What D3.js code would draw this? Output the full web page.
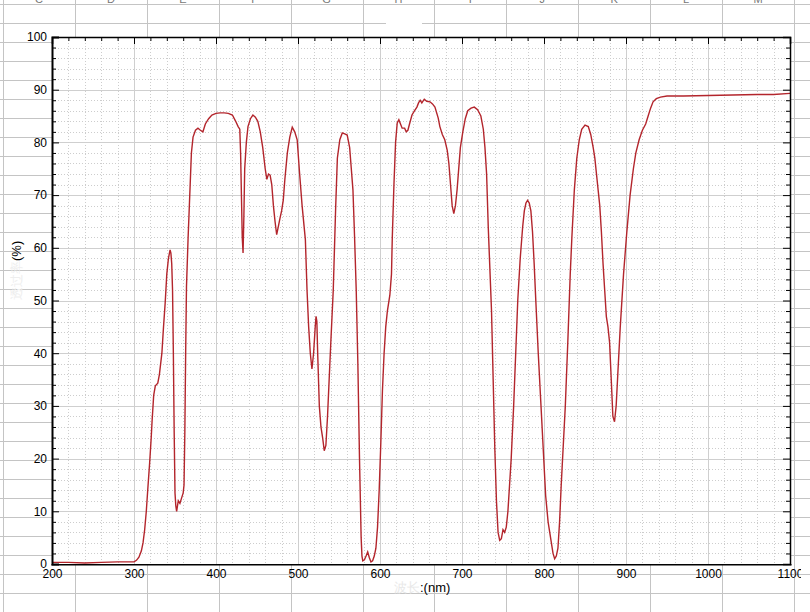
<!DOCTYPE html>
<html><head><meta charset="utf-8">
<script src="https://cdn.jsdelivr.net/npm/d3@7"></script>
<style>body{margin:0;background:#fff}svg{display:block}text{font-family:"Liberation Sans",Arial,sans-serif}</style>
</head><body>
<svg id="c" width="810" height="612"></svg>
<script>
// ---- data ----
const wavelength = [200,220,240,260,280,300,303,306,309,311,313,315,317,319,321,322,324,326,329,331,334,336,338,340,342,344,345,346,347,348,349,350,351,352,354,356,358,360,361,362,363,364,366,368,370,372,375,378,381,384,387,391,395,400,405,410,415,420,424,427,429,430,431,432,433,434,435,437,439,442,445,448,451,454,457,460,462,464,466,468,470,472,474,476,478,480,482,484,487,490,493,496,499,502,505,509,511,513,515,517,519,521,522,523,524,526,528,530,532,534,536,538,540,543,546,548,551,554,557,560,563,565,567,569,571,573,575,577,578,579,581,583,585,587,589,591,593,595,597,599,601,603,605,607,609,612,614,615,617,619,621,623,625,627,630,632,634,636,639,642,645,647,649,651,654,657,661,664,667,671,673,676,679,682,684,686,688,690,692,694,696,698,701,704,707,711,715,719,723,726,728,730,732,734,736,738,740,742,744,746,748,750,752,754,756,758,760,763,766,768,771,774,776,778,780,782,784,786,788,790,793,796,798,800,802,805,807,809,811,813,815,817,819,821,824,826,829,832,834,837,840,843,846,850,854,857,860,862,864,866,868,870,872,874,876,878,880,882,884,886,888,890,893,897,901,905,909,912,916,920,924,927,930,933,937,942,950,970,1000,1030,1060,1080,1100];
const transmittance = [0.3,0.3,0.2,0.3,0.4,0.4,0.7,1.3,2.5,4,6.5,10,14.6,19,24,27,32,33.8,34.3,36,40,45,49.5,55,58,59.6,59,57,52,40,25,13.5,11,10,12,11.5,12.5,13.5,15,25,40,52.6,62,70,78,81,82.3,82.7,82.3,82,83.5,84.5,85.2,85.5,85.6,85.6,85.5,85.2,84,83,82.5,78,70,62,59,66,75,80,83,84.5,85.2,84.8,84,82,79,75,73,74,73.8,72,68,65,62.5,64,65.6,67,69,73,78,81,82.9,82,80.5,74,68,61.5,52,45,40,37,40,45,47,46,40,30,26,24,21.5,22.5,28,35,42,52,68,77,80.5,81.8,81.6,81.4,79,75,71,62,52,38,20,5,1.5,0.6,0.8,1.5,2.3,1.2,0.4,0.6,1.5,3,7,14,23,33,40,45,48,51,55,62,72,80,83.7,84.3,83.5,82.7,82.7,82,82.3,83.5,85.2,86,86.7,87.5,88,87.5,88.2,87.8,87.7,87.3,86.7,84.6,83,81.5,80.5,78.5,76,72,68,66.5,68,71,75,79,82,84.5,86,86.5,86.7,86.2,85,82.5,79,74,64,56,48,35,22,12,6,4.5,4.8,6.5,6,7,10,15,20,30,42,50,58,64,67,68.5,69,68.5,67,63,57,50,40,31,25,19,13,8,6,4,2,1,1.5,3,8,15,24,30,42,55,62,71,77,80.5,82.5,83.3,83,81.5,79,77,74,71,68,63,57,52,47,45,42,35,28,27,30,36,45,55,63,70,75,78,80.5,82.3,83.5,85,86.5,87.7,88.3,88.6,88.8,88.8,88.9,89,89.1,89.1,89.3];
const xMajorTicks = [200,300,400,500,600,700,800,900,1000,1100];
const yMajorTicks = [0,10,20,30,40,50,60,70,80,90,100];
const sheetColumns = ["C","D","E","F","G","H","I","J","K","L","M"];
const yLabelFaint = "透过率", yLabel = "(%)";
const xLabelFaint = "波长", xLabel = ":(nm)";

// ---- drawing ----
const svg = d3.select("#c");
const W = 810, H = 612;
const sheetLine = "#c4c4c4";

// spreadsheet background
const sheet = svg.append("g");
for (let yy = 4; yy < H; yy += 19) sheet.append("line").attr("x1",0).attr("x2",W).attr("y1",yy+0.5).attr("y2",yy+0.5).attr("stroke",sheetLine);
for (let k = 0; k <= 11; k++) { const xx = Math.round(3 + 71.9*k)+0.5; sheet.append("line").attr("x1",xx).attr("x2",xx).attr("y1",0).attr("y2",H).attr("stroke",sheetLine); }
sheetColumns.forEach((c,i)=> sheet.append("text").attr("x",39+71.9*i).attr("y",3).attr("text-anchor","middle").attr("font-size",11).attr("fill","#777").text(c));
// erased title patch
svg.append("rect").attr("x",386).attr("y",14).attr("width",36).attr("height",16).attr("fill","#fff");

const x = d3.scaleLinear().domain([200,1100]).range([52,790]);
const y = d3.scaleLinear().domain([0,100]).range([564,37]);

// plot background
svg.append("rect").attr("x",x(200)).attr("y",y(100)).attr("width",x(1100)-x(200)).attr("height",y(0)-y(100)).attr("fill","#fff");

const grid = svg.append("g");
const xMinor = d3.range(200,1100.1,20).filter(v=>v%100!==0);
const yMinor = d3.range(0,100.1,2).filter(v=>v%10!==0);
grid.selectAll(".vmin").data(xMinor).join("line").attr("x1",d=>Math.round(x(d))+0.5).attr("x2",d=>Math.round(x(d))+0.5).attr("y1",y(100)).attr("y2",y(0)).attr("stroke","#cdcdcd").attr("stroke-dasharray","1,2");
grid.selectAll(".hmin").data(yMinor).join("line").attr("y1",d=>Math.round(y(d))+0.5).attr("y2",d=>Math.round(y(d))+0.5).attr("x1",x(200)).attr("x2",x(1100)).attr("stroke","#cdcdcd").attr("stroke-dasharray","1,2");
grid.selectAll(".vmaj").data(xMajorTicks).join("line").attr("x1",d=>Math.round(x(d))+0.5).attr("x2",d=>Math.round(x(d))+0.5).attr("y1",y(100)).attr("y2",y(0)).attr("stroke","#cfcfcf");
grid.selectAll(".hmaj").data(yMajorTicks).join("line").attr("y1",d=>Math.round(y(d))+0.5).attr("y2",d=>Math.round(y(d))+0.5).attr("x1",x(200)).attr("x2",x(1100)).attr("stroke","#cfcfcf");

// curve
const pts = wavelength.map((w,i)=>[w,transmittance[i]]);
svg.append("path").datum(pts).attr("fill","none").attr("stroke","#b3252c").attr("stroke-width",1.4)
  .attr("d", d3.line().x(d=>x(d[0])).y(d=>y(d[1])));

// axes
const fmtNone = () => "";
function styleAxis(g){ g.selectAll("text").attr("font-size",12).attr("fill","#000").style("font-family","'Liberation Sans',Arial,sans-serif"); g.selectAll("line").attr("stroke","#000"); }
svg.append("defs").append("clipPath").attr("id","clipR").append("rect").attr("x",0).attr("y",0).attr("width",801).attr("height",H);

const gB = svg.append("g").attr("transform",`translate(0,${y(0)})`).attr("clip-path","url(#clipR)");
gB.call(d3.axisBottom(x).tickValues(xMajorTicks).tickSize(-7).tickPadding(5).tickFormat(d3.format("d")));
gB.append("g").call(d3.axisBottom(x).tickValues(xMinor).tickSize(-4).tickFormat(fmtNone)).select(".domain").remove();
styleAxis(gB); gB.select(".domain").attr("stroke","#000").attr("stroke-width",2);

const gL = svg.append("g").attr("transform",`translate(${x(200)},0)`);
gL.call(d3.axisLeft(y).tickValues(yMajorTicks).tickSize(-7).tickPadding(5).tickFormat(d3.format("d")));
gL.append("g").call(d3.axisLeft(y).tickValues(yMinor).tickSize(-4).tickFormat(fmtNone)).select(".domain").remove();
styleAxis(gL); gL.select(".domain").attr("stroke","#000").attr("stroke-width",2);

const gT = svg.append("g").attr("transform",`translate(0,${y(100)})`);
gT.call(d3.axisTop(x).tickValues(xMajorTicks).tickSize(-7).tickFormat(fmtNone));
gT.append("g").call(d3.axisTop(x).tickValues(xMinor).tickSize(-4).tickFormat(fmtNone)).select(".domain").remove();
styleAxis(gT); gT.select(".domain").attr("stroke","#000").attr("stroke-width",1.5);

const gR = svg.append("g").attr("transform",`translate(${x(1100)},0)`);
gR.call(d3.axisRight(y).tickValues(yMajorTicks).tickSize(-7).tickFormat(fmtNone));
gR.append("g").call(d3.axisRight(y).tickValues(yMinor).tickSize(-4).tickFormat(fmtNone)).select(".domain").remove();
styleAxis(gR); gR.select(".domain").attr("stroke","#000").attr("stroke-width",1.5);

// axis titles
const yt = svg.append("text").attr("transform","translate(21,300) rotate(-90)").attr("font-size",13).attr("fill","#000");
yt.append("tspan").attr("fill","#eeeeee").text(yLabelFaint);
yt.append("tspan").text(yLabel);
const xt = svg.append("text").attr("x",420).attr("y",592).attr("font-size",13).attr("fill","#000");
xt.append("tspan").attr("fill","#e8e8e8").attr("text-anchor","end").text(xLabelFaint);
xt.append("tspan").attr("x",420).text(xLabel);
</script>
</body></html>
